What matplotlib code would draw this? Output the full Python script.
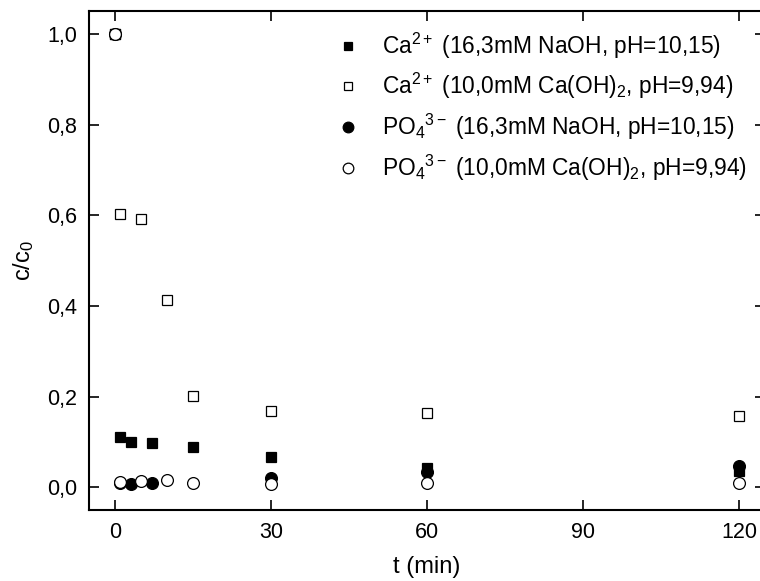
import matplotlib
matplotlib.use('Agg')
import matplotlib.pyplot as plt

plt.rcParams['font.family'] = ['Liberation Sans', 'DejaVu Sans']
plt.rcParams['mathtext.fontset'] = 'custom'
plt.rcParams['mathtext.rm'] = 'Liberation Sans'
plt.rcParams['mathtext.it'] = 'Liberation Sans'
plt.rcParams['mathtext.default'] = 'regular'

# data
t_ca_naoh = [0, 1, 3, 7, 15, 30, 60, 120]
ca_naoh = [1.0, 0.112, 0.100, 0.097, 0.090, 0.067, 0.042, 0.035]

t_ca_caoh = [0, 1, 5, 10, 15, 30, 60, 120]
ca_caoh = [1.0, 0.604, 0.592, 0.413, 0.201, 0.168, 0.163, 0.157]

t_po4_naoh = [0, 1, 3, 7, 30, 60, 120]
po4_naoh = [1.0, 0.010, 0.008, 0.010, 0.020, 0.033, 0.047]

t_po4_caoh = [0, 1, 5, 10, 15, 30, 60, 120]
po4_caoh = [1.0, 0.012, 0.013, 0.016, 0.010, 0.008, 0.009, 0.009]

labels = [r'Ca$^{2+}$ (16,3mM NaOH, pH=10,15)',
          r'Ca$^{2+}$ (10,0mM Ca(OH)$_2$, pH=9,94)',
          r'PO$_4$$^{3-}$ (16,3mM NaOH, pH=10,15)',
          r'PO$_4$$^{3-}$ (10,0mM Ca(OH)$_2$, pH=9,94)']

xticks = [0, 30, 60, 90, 120]
yticks = [0.0, 0.2, 0.4, 0.6, 0.8, 1.0]

fig = plt.figure(figsize=(7.6, 5.81), dpi=100)
ax = fig.add_axes([89.3 / 760, 1 - 510 / 581, (765 - 89.3) / 760, (510 - 11.4) / 581])

ms_sq = 7
ms_ci = 8.5
mew = 0.9
ax.plot(t_ca_naoh, ca_naoh, 's', ms=ms_sq, mfc='black', mec='black', mew=mew, label=labels[0])
ax.plot(t_ca_caoh, ca_caoh, 's', ms=ms_sq, mfc='white', mec='black', mew=mew, label=labels[1])
ax.plot(t_po4_naoh, po4_naoh, 'o', ms=ms_ci, mfc='black', mec='black', mew=mew, label=labels[2])
ax.plot(t_po4_caoh, po4_caoh, 'o', ms=ms_ci, mfc='white', mec='black', mew=mew, label=labels[3])

ax.set_xlim(-5, 125)
ax.set_ylim(-0.05, 1.05)
ax.set_xticks(xticks)
ax.set_xticklabels([str(v) for v in xticks])
ax.set_yticks(yticks)
ax.set_yticklabels([f'{v:.1f}'.replace('.', ',') for v in yticks])
ax.tick_params(direction='in', length=7, width=1.2, labelsize=15.5,
               top=True, right=True, pad=9)
for s in ax.spines.values():
    s.set_linewidth(1.5)

ax.set_xlabel('t (min)', fontsize=17, labelpad=9)
ax.set_ylabel(r'c/c$_0$', fontsize=17, labelpad=8)

leg = ax.legend(loc='upper left', bbox_to_anchor=(325 / 760, 1 - 19 / 581),
                bbox_transform=fig.transFigure, frameon=False, fontsize=16.4,
                handlelength=1.0, handletextpad=1.0, borderpad=0,
                labelspacing=0.47, markerscale=0.9)

fig.savefig('out.png', dpi=100)
